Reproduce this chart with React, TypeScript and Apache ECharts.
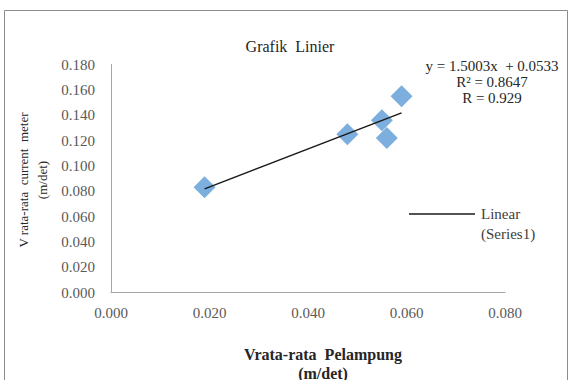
import React, { useEffect, useRef } from "react";
import * as echarts from "echarts";

const xValues = [0.019, 0.048, 0.055, 0.056, 0.059];
const yValues = [0.083, 0.125, 0.136, 0.122, 0.155];
const trendSlope = 1.5003;
const trendIntercept = 0.0533;
const xTicks = { min: 0, max: 0.08, interval: 0.02 };
const yTicks = { min: 0, max: 0.18, interval: 0.02 };
const titleText = "Grafik  Linier";
const xName = "Vrata-rata  Pelampung\n(m/det)";
const yName = "V rata-rata  current  meter\n(m/det)";
const equationLines = ["y = 1.5003x  + 0.0533", "R² = 0.8647", "R = 0.929"];
const legendLines = ["Linear", "(Series1)"];

const SERIF = '"Liberation Serif", "Times New Roman", serif';

export default function App() {
  const ref = useRef<HTMLDivElement>(null);
  useEffect(() => {
    document.body.style.margin = "0";
    if (!ref.current) return;
    const chart = echarts.init(ref.current, undefined, { renderer: "svg" });
    const points = xValues.map((x, i) => [x, yValues[i]]);
    const xMin = Math.min(...xValues);
    const xMax = Math.max(...xValues);
    const trend = [
      [xMin, trendSlope * xMin + trendIntercept],
      [xMax, trendSlope * xMax + trendIntercept],
    ];
    chart.setOption({
      animation: false,
      backgroundColor: "#ffffff",
      grid: { left: 111, right: 66, top: 64.5, bottom: 87.5 },
      xAxis: {
        type: "value",
        min: xTicks.min,
        max: xTicks.max,
        interval: xTicks.interval,
        axisLine: { show: true, lineStyle: { color: "#a6a6a6", width: 1 } },
        axisTick: { show: false },
        splitLine: { show: false },
        axisLabel: {
          formatter: (v: number) => v.toFixed(3),
          color: "#595959",
          fontFamily: SERIF,
          fontSize: 15,
          margin: 13,
        },
      },
      yAxis: {
        type: "value",
        min: yTicks.min,
        max: yTicks.max,
        interval: yTicks.interval,
        axisLine: { show: true, lineStyle: { color: "#a6a6a6", width: 1 } },
        axisTick: { show: false },
        splitLine: { show: false },
        axisLabel: {
          formatter: (v: number) => v.toFixed(3),
          color: "#595959",
          fontFamily: SERIF,
          fontSize: 15,
          margin: 16,
        },
      },
      series: [
        {
          type: "scatter",
          data: points,
          symbol: "diamond",
          symbolSize: 22,
          itemStyle: { color: "#5b9bd5" },
          z: 2,
        },
        {
          type: "line",
          data: trend,
          symbol: "none",
          lineStyle: { color: "#1a1a1a", width: 1.5 },
          z: 3,
        },
      ],
      graphic: [
        {
          type: "rect",
          shape: { x: 4.5, y: 10.5, width: 563, height: 380 },
          style: { fill: "none", stroke: "#8c8c8c", lineWidth: 1 },
          silent: true,
        },
        {
          type: "text",
          x: 290,
          y: 46,
          style: {
            text: titleText,
            font: `16px ${SERIF}`,
            fill: "#262626",
            textAlign: "center",
            textVerticalAlign: "middle",
          },
        },
        {
          type: "text",
          x: 492,
          y: 82,
          style: {
            text: equationLines.join("\n"),
            font: `15px ${SERIF}`,
            fill: "#262626",
            textAlign: "center",
            textVerticalAlign: "middle",
            lineHeight: 16,
          },
        },
        {
          type: "line",
          shape: { x1: 409, y1: 214, x2: 475, y2: 214 },
          style: { stroke: "#1a1a1a", lineWidth: 1.5 },
        },
        {
          type: "text",
          x: 481,
          y: 224,
          style: {
            text: legendLines.join("\n"),
            font: `15px ${SERIF}`,
            fill: "#404040",
            textAlign: "left",
            textVerticalAlign: "middle",
            lineHeight: 20,
          },
        },
        {
          type: "text",
          x: 323,
          y: 363.5,
          style: {
            text: xName,
            font: `bold 16px ${SERIF}`,
            fill: "#262626",
            textAlign: "center",
            textVerticalAlign: "middle",
            lineHeight: 19,
          },
        },
        {
          type: "text",
          x: 33,
          y: 180,
          rotation: Math.PI / 2,
          style: {
            text: yName,
            font: `13px ${SERIF}`,
            fill: "#262626",
            textAlign: "center",
            textVerticalAlign: "middle",
            lineHeight: 19,
          },
        },
      ],
    });
    return () => chart.dispose();
  }, []);
  return <div ref={ref} style={{ width: 571, height: 380 }} />;
}
